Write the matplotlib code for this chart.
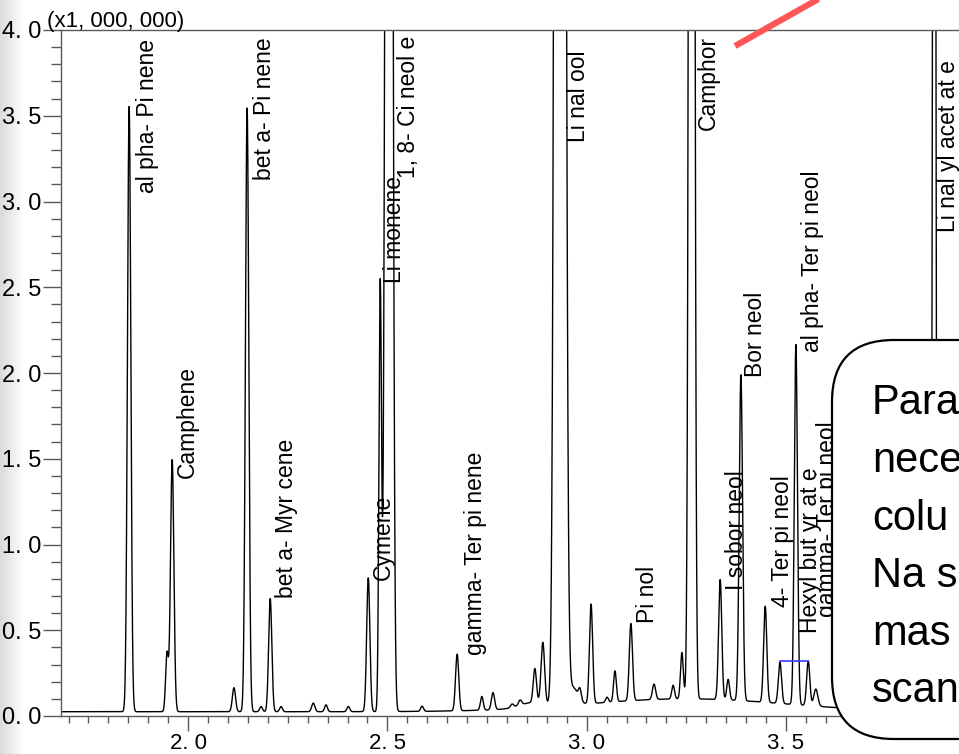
import numpy as np
import matplotlib
matplotlib.use("Agg")
import matplotlib.pyplot as plt
from matplotlib.patches import FancyBboxPatch
from matplotlib.ticker import MultipleLocator, FixedLocator, FixedFormatter

plt.rcParams['font.family'] = ['Liberation Sans', 'DejaVu Sans']

# ---------------- data ----------------
# peaks (retention time [min], height [x1,000,000], sigma [min])
peak_rt = [1.852, 1.947, 1.960, 2.115, 2.148, 2.183, 2.206, 2.233, 2.314, 2.346,
           2.402, 2.452, 2.482, 2.499, 2.508, 2.587, 2.675, 2.737, 2.765, 2.813,
           2.833, 2.860, 2.870, 2.890, 2.933, 2.948, 2.966, 2.983, 3.011, 3.051,
           3.071, 3.111, 3.169, 3.217, 3.239, 3.250, 3.2635, 3.335, 3.355, 3.387,
           3.448, 3.485, 3.525, 3.556, 3.575, 3.872]
peak_height = [3.53, 0.34, 1.47, 0.14, 3.52, 0.03, 0.66, 0.03, 0.05, 0.04,
               0.03, 0.78, 2.50, 8.0, 10.0, 0.03, 0.33, 0.08, 0.10, 0.02,
               0.03, 0.03, 0.20, 0.36, 40.0, 0.30, 0.10, 0.06, 0.58, 0.03,
               0.18, 0.45, 0.09, 0.08, 0.27, 0.075, 20.0, 0.70, 0.12, 1.90,
               0.56, 0.24, 2.10, 0.26, 0.10, 12.0]
peak_sigma = [0.0042, 0.0035, 0.0042, 0.0040, 0.0042, 0.0035, 0.0040, 0.0035, 0.0040, 0.0035,
              0.0035, 0.0040, 0.0032, 0.0050, 0.0050, 0.0035, 0.0040, 0.0035, 0.0040, 0.0040,
              0.0040, 0.0300, 0.0040, 0.0045, 0.0077, 0.0060, 0.0120, 0.0035, 0.0040, 0.0035,
              0.0035, 0.0040, 0.0040, 0.0035, 0.0035, 0.2500, 0.0049, 0.0040, 0.0035, 0.0042,
              0.0040, 0.0040, 0.0040, 0.0040, 0.0050, 0.0030]
baseline_level = 0.025

compound_names = ["al pha- Pi nene", "bet a- Pi nene", "Camphene", "bet a- Myr cene",
                  "Cymene", "Li monene", "1, 8- Ci neol e", "gamma- Ter pi nene",
                  "Li nal ool", "Pi nol", "Camphor", "I sobor neol", "Bor neol",
                  "4- Ter pi neol", "al pha- Ter pi neol", "Hexyl but yr at e",
                  "gamma- Ter pi neol", "Li nal yl acet at e"]

# integration baseline segment (blue)
integ_rt = [3.486, 3.556]
integ_level = [0.32, 0.32]

x_tick_values = [2.0, 2.5, 3.0, 3.5]
x_tick_labels = ["2. 0", "2. 5", "3. 0", "3. 5"]
y_tick_values = [0.0, 0.5, 1.0, 1.5, 2.0, 2.5, 3.0, 3.5, 4.0]
y_tick_labels = ["0. 0", "0. 5", "1. 0", "1. 5", "2. 0", "2. 5", "3. 0", "3. 5", "4. 0"]
y_multiplier_text = "(x1, 000, 000)"

callout_lines = ["Para", "nece", "colu", "Na s", "mas", "scan"]

# ---------------- layout (positions of label anchors, in data units) ----------------
label_anchor = [(1.897, 3.05), (2.191, 3.125), (1.997, 1.388), (2.248, 0.688),
                (2.489, 0.793), (2.519, 2.525), (2.552, 3.137), (2.720, 0.356),
                (2.979, 3.347), (3.152, 0.542), (3.305, 3.417), (3.375, 0.735),
                (3.423, 1.977), (3.491, 0.636), (3.566, 2.122), (3.561, 0.484),
                (3.604, 0.577), (3.907, 2.822)]

W, H = 959, 754
fig = plt.figure(figsize=(W / 100, H / 100), dpi=100, facecolor="white")

# background strip (slide texture on the left)
bg = fig.add_axes([0, 0, 1, 1], zorder=0)
bg.set_xlim(0, W)
bg.set_ylim(H, 0)
bg.axis("off")
grad = np.ones((2, 60))
grad[:, :] = np.clip(0.86 + 0.14 * (np.arange(60) / 24.0), 0, 1)
bg.imshow(np.dstack([grad, grad, grad]), extent=(0, 60, H, 0), aspect="auto",
          interpolation="bilinear")

# main chromatogram axes
x_left, x_right = 1.681, 3.997
ax = fig.add_axes([61 / W, 38 / H, (984 - 61) / W, 686 / H], zorder=1)
ax.set_facecolor("white")
t = np.linspace(x_left, x_right, 8000)
signal = np.full_like(t, baseline_level)
for rt, h, s in zip(peak_rt, peak_height, peak_sigma):
    signal += h * np.exp(-0.5 * ((t - rt) / s) ** 2)
ax.plot(t, signal, color="black", lw=1.0)
ax.plot(integ_rt, integ_level, color="#3a3aff", lw=1.2)

ax.set_xlim(x_left, x_right)
ax.set_ylim(0, 4.0)

for name, (lx, ly) in zip(compound_names, label_anchor):
    ax.text(lx, ly, name, rotation=90, ha="center", va="bottom",
            fontsize=16.5, color="black", clip_on=True)

ax.xaxis.set_major_locator(FixedLocator(x_tick_values))
ax.xaxis.set_major_formatter(FixedFormatter(x_tick_labels))
ax.xaxis.set_minor_locator(MultipleLocator(0.05))
ax.yaxis.set_major_locator(FixedLocator(y_tick_values))
ax.yaxis.set_major_formatter(FixedFormatter(y_tick_labels))
ax.yaxis.set_minor_locator(MultipleLocator(0.1))

spine_col = "#5a5a5a"
for side in ["left", "bottom", "top", "right"]:
    ax.spines[side].set_color(spine_col)
    ax.spines[side].set_linewidth(1.0)
ax.tick_params(axis="x", which="major", length=11, width=1.0, color=spine_col,
               labelsize=16, pad=1, direction="out")
ax.tick_params(axis="x", which="minor", length=5, width=1.0, color=spine_col,
               direction="out")
ax.tick_params(axis="y", which="major", length=13, width=1.0, color=spine_col,
               labelsize=17, pad=1, direction="out")
ax.tick_params(axis="y", which="minor", length=7, width=1.0, color=spine_col,
               direction="out")

# overlay: multiplier text, callout box, red pointer line
ov = fig.add_axes([0, 0, 1, 1], zorder=3)
ov.set_xlim(0, W)
ov.set_ylim(H, 0)
ov.axis("off")
ov.patch.set_alpha(0)
ov.text(47, 27, y_multiplier_text, fontsize=16, ha="left", va="baseline", color="black")

box = FancyBboxPatch((832, 340), 300, 399,
                     boxstyle="round,pad=0,rounding_size=62",
                     facecolor="white", edgecolor="black", lw=1.6, zorder=5)
ov.add_patch(box)
line_base = [414, 472, 530, 587, 645, 702]
for txt, yb in zip(callout_lines, line_base):
    ov.text(872, yb, txt, fontsize=30, ha="left", va="baseline", color="black",
            zorder=6, clip_on=True)

ov.plot([735, 838], [46, -12], color="#ff5757", lw=4.5, solid_capstyle="butt",
        zorder=7, clip_on=True)

fig.savefig("out.png", dpi=100, facecolor="white")
